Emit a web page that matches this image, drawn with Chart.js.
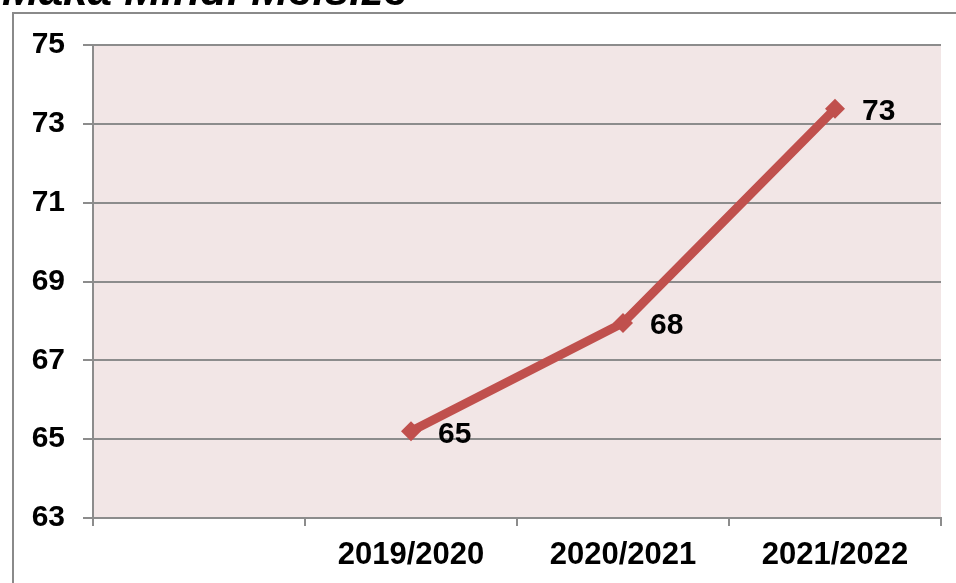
<!DOCTYPE html>
<html lang="en">
<head>
  <meta charset="UTF-8">
  <title>Line chart</title>
  <script src="https://cdn.jsdelivr.net/npm/chart.js@4.4.0/dist/chart.umd.min.js"></script>
  <style>
    * { margin: 0; padding: 0; box-sizing: border-box; }
    body { background: #fff; width: 956px; height: 583px; overflow: hidden; }
    #wrap { position: relative; width: 956px; height: 583px; }
  </style>
</head>
<body>
  <div id="wrap"><canvas id="chart"></canvas></div>

  <script>
    // data
    const categories = ['', '2019/2020', '2020/2021', '2021/2022'];
    const values = [null, 65.2, 67.95, 73.38];
    const valueLabels = [null, '65', '68', '73'];
    const titleText = 'Maka Mindi Meisize';

    const lineColor = '#c0504d';
    const gridColor = '#8c8c8c';

    // pink plot area, outer frame and the cut-off title
    const framePlugin = {
      id: 'frame',
      beforeDraw(chart) {
        const { ctx, chartArea } = chart;
        ctx.save();
        ctx.fillStyle = '#f2e6e6';
        ctx.fillRect(chartArea.left, chartArea.top, chartArea.right - chartArea.left, chartArea.bottom - chartArea.top);
        ctx.strokeStyle = '#8a8a8a';
        ctx.lineWidth = 2;
        ctx.beginPath();
        ctx.moveTo(13, 600);
        ctx.lineTo(13, 13);
        ctx.lineTo(970, 13);
        ctx.stroke();
        ctx.fillStyle = '#000';
        ctx.font = 'italic bold 44px "Liberation Sans", Arial, sans-serif';
        ctx.textBaseline = 'alphabetic';
        ctx.fillText(titleText, 2, 5);
        ctx.restore();
      },
      afterDatasetsDraw(chart) {
        const { ctx } = chart;
        const meta = chart.getDatasetMeta(0);
        ctx.save();
        ctx.fillStyle = '#000';
        ctx.font = 'bold 30px "Liberation Sans", Arial, sans-serif';
        ctx.textAlign = 'left';
        ctx.textBaseline = 'middle';
        meta.data.forEach((pt, i) => {
          if (valueLabels[i] == null) return;
          ctx.fillText(valueLabels[i], pt.x + 27, pt.y + 3);
        });
        ctx.restore();
      }
    };

    new Chart(document.getElementById('chart'), {
      type: 'line',
      data: {
        labels: categories,
        datasets: [{
          data: values,
          borderColor: lineColor,
          backgroundColor: lineColor,
          borderWidth: 9,
          pointStyle: 'rectRot',
          pointRadius: 10,
          pointBorderWidth: 0,
          tension: 0
        }]
      },
      options: {
        responsive: true,
        maintainAspectRatio: false,
        animation: false,
        layout: { padding: { top: 45, right: 15, left: 0, bottom: 0 } },
        plugins: {
          legend: { display: false },
          tooltip: { enabled: false }
        },
        scales: {
          x: {
            offset: true,
            grid: {
              offset: true,
              drawOnChartArea: false,
              color: gridColor,
              lineWidth: 2,
              tickLength: 8
            },
            border: { color: gridColor, width: 2 },
            ticks: {
              color: '#000',
              padding: 11,
              maxRotation: 0,
              font: { family: '"Liberation Sans", Arial', size: 31, weight: 'bold' }
            },
            afterFit(axis) { axis.height = 65; }
          },
          y: {
            min: 63,
            max: 75,
            ticks: {
              stepSize: 2,
              color: '#000',
              padding: 18,
              font: { family: '"Liberation Sans", Arial', size: 30, weight: 'bold' }
            },
            grid: {
              color: gridColor,
              lineWidth: 2,
              tickLength: 10
            },
            border: { color: gridColor, width: 2 },
            afterFit(axis) { axis.width = 93; }
          }
        }
      },
      plugins: [framePlugin]
    });
  </script>
</body>
</html>
